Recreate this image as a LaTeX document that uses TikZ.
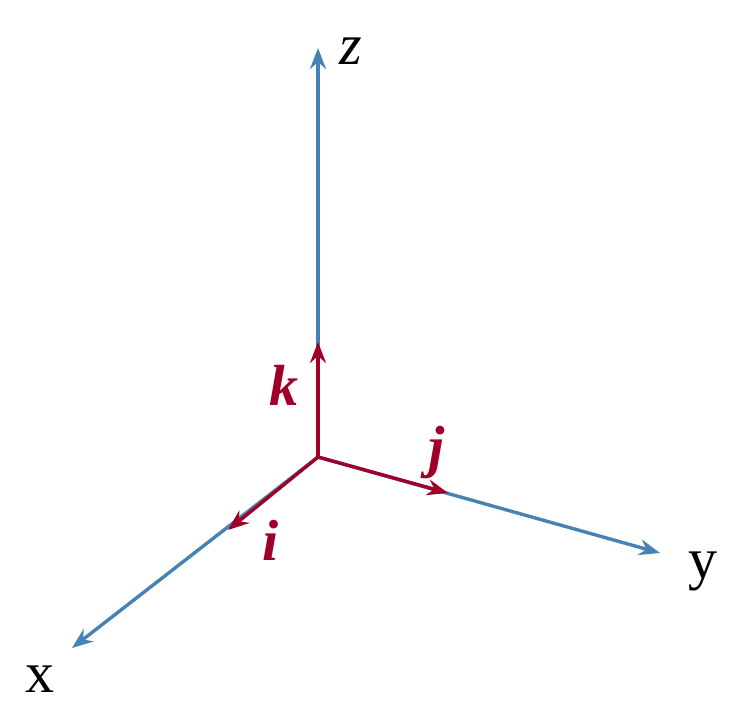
\documentclass[tikz,border=0pt]{standalone}
\usepackage{fontspec}
\setmainfont{Liberation Serif}
\usetikzlibrary{arrows.meta}
\definecolor{axblue}{RGB}{70,130,180}
\definecolor{vecred}{RGB}{160,0,40}
\begin{document}
\begin{tikzpicture}[x=1pt,y=-1pt,
  axis/.style={draw=axblue,line width=3.4pt,-{Stealth[length=21pt,width=16pt,inset=7pt]}},
  vec/.style={draw=vecred,line width=3.4pt,-{Stealth[length=21pt,width=16pt,inset=7pt]}},
  lab/.style={font=\fontsize{58}{70}\selectfont,anchor=base,inner sep=0pt},
  vlab/.style={font=\fontsize{58}{70}\selectfont\bfseries\itshape,text=vecred,anchor=base,inner sep=0pt}]
\useasboundingbox (0,0) rectangle (742,712);
\coordinate (O) at (318,457);
\coordinate (Z) at (318,48);
\coordinate (Y) at (660,553);
\coordinate (X) at (72,648);
\coordinate (K) at (318,342);
\coordinate (J) at (448,493);
\coordinate (I) at (228,530);
\draw[axis] (O) -- (Z);
\draw[axis] (O) -- (Y);
\draw[axis] (O) -- (X);
\draw[vec] (O) -- (K);
\draw[vec] (O) -- (J);
\draw[vec] (O) -- (I);
\node[lab] (zl) at (351,64) {\itshape z};
\node[lab] (yl) at (703,578) {y};
\node[lab] (xl) at (40,692) {x};
\node[vlab] (kl) at (284,405) {k};
\node[vlab] (jl) at (437,466) {j};
\node[vlab] (il) at (271,560) {i};
\end{tikzpicture}
\end{document}
